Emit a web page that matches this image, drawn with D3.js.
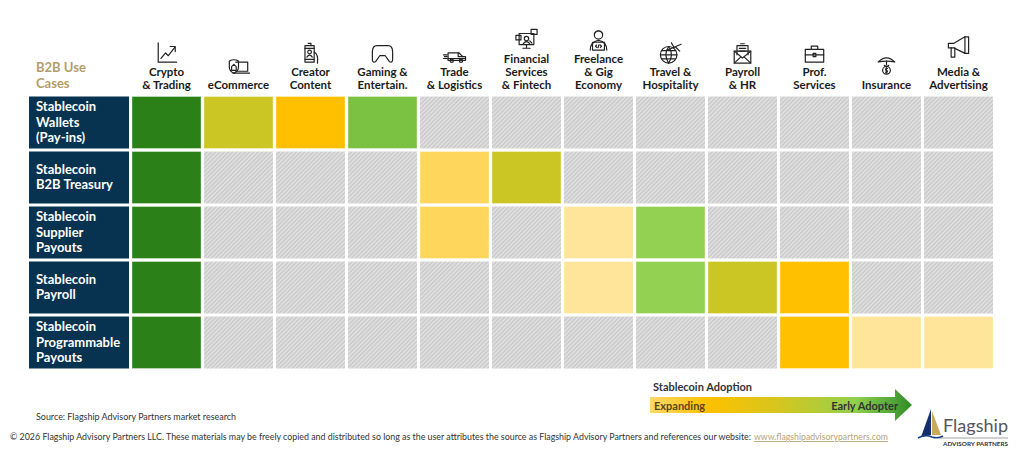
<html>
<head>
<meta charset="utf-8">
<style>
  body { margin: 0; background: #fff; }
  text { font-family: Lato, "Open Sans", sans-serif; }
</style>
</head>
<script src="https://d3js.org/d3.v7.min.js"></script>
<body>
<script>

// data
var industries = [
    ["Crypto", "& Trading"],
    ["eCommerce"],
    ["Creator", "Content"],
    ["Gaming &", "Entertain."],
    ["Trade", "& Logistics"],
    ["Financial", "Services", "& Fintech"],
    ["Freelance", "& Gig", "Economy"],
    ["Travel &", "Hospitality"],
    ["Payroll", "& HR"],
    ["Prof.", "Services"],
    ["Insurance"],
    ["Media &", "Advertising"]
];

var useCases = [
    ["Stablecoin", "Wallets", "(Pay-ins)"],
    ["Stablecoin", "B2B Treasury"],
    ["Stablecoin", "Supplier", "Payouts"],
    ["Stablecoin", "Payroll"],
    ["Stablecoin", "Programmable", "Payouts"]
];

// adoption level per use case (row) and industry (column), 0 = not yet
var wallets      = [7, 4, 3, 6, 0, 0, 0, 0, 0, 0, 0, 0];
var treasury     = [7, 0, 0, 0, 2, 4, 0, 0, 0, 0, 0, 0];
var supplier     = [7, 0, 0, 0, 2, 0, 1, 5, 0, 0, 0, 0];
var payroll      = [7, 0, 0, 0, 0, 0, 1, 5, 4, 3, 0, 0];
var programmable = [7, 0, 0, 0, 0, 0, 0, 0, 0, 3, 1, 1];
var adoption = [wallets, treasury, supplier, payroll, programmable];

var levels = [0, 1, 2, 3, 4, 5, 6, 7];
var legendTitle = "Stablecoin Adoption";
var legendEnds = ["Expanding", "Early Adopter"];
var sourceNote = "Source: Flagship Advisory Partners market research";
var copyNote = "\u00a9 2026 Flagship Advisory Partners LLC. These materials may be freely copied and distributed so long as the user attributes the source as Flagship Advisory Partners and references our website: ";
var copyLink = "www.flagshipadvisorypartners.com";

// icons, drawn in a 24x24 box
var icons = [
    {dy: 0, p: ["M3,1 V22 H23", "M6,18 L11,12 L14,15 L21,6", "M16,5 H21.5 V10.5"]},
    {dy: -3, p: ["M9,11 H22 V21 H9", "M6,23 H24", "M2,10 Q7,7 12,10 V16 Q12,21 7,23 Q2,21 2,16 Z", "M4.5,16 L7,13.5 L9.5,16 V20 H4.5 Z"]},
    {dy: 0, p: ["M6,4 H16 V22 H6 Z", "M6,7 H16", "M6,19 H16", "M8,16.5 Q11,12 14,16.5", "M16,11 Q21,14 19.5,23", "M9.5,1.5 H12.5 V4"], c: [[11, 11, 2]]},
    {dy: 0, p: ["M6,4 H18 Q23,4 23,11 V19 Q23,23 19.5,21.5 L15,15 H9 L4.5,21.5 Q1,23 1,19 V11 Q1,4 6,4 Z"]},
    {dy: 0, p: ["M5,12 H17 L21,16 H24 V20 H5 Z", "M0,14 H4 M1,16 H4 M0,18 H4", "M16,12 V16 H21", "M5,18 H24"], c: [[9, 20.5, 1.8], [19, 20.5, 1.8]]},
    {dy: 0, p: ["M4,5 H20 V17 H4 Z", "M12,17 V20 M8,21 H16", "M8.5,16 Q12,11.5 15.5,16", "M0.5,7 H6 V12 H0.5 Z", "M17,0.5 H23.5 V6 H17 Z", "M15.5,13 L18,15.5"], c: [[12, 10.5, 2.4]]},
    {dy: 0, p: ["M7.5,5 Q12,-0.5 16.5,5", "M3,23 Q3,14 12,12.5 Q21,14 21,23", "M5.5,14.5 H18.5 V23 H5.5 Z", "M10,17.5 L8.8,18.8 L10,20 M14,17.5 L15.2,18.8 L14,20 M12.6,17.2 L11.4,20.4"], c: [[12, 6.5, 4.5]]},
    {dy: 0, p: ["M1,14 H19", "M10,5 Q4,14 10,23", "M10,5 Q16,14 10,23", "M2.5,9.5 H17.5 M2.5,18.5 H17.5", "M8,9 L23.5,2.5", "M16,6 L13,1 M17.5,5.5 L22,10"], c: [[10, 14, 9]]},
    {dy: 0, p: ["M3,10 H21 V23 H3 Z", "M3,10 L12,17.5 L21,10", "M3,23 L10,16.5 M21,23 L14,16.5", "M6,14 V4 H18 V14", "M8.5,7 H15.5 M8.5,10 H15.5", "M10,2 H14"]},
    {dy: 0, p: ["M2,8 H22 V22 H2 Z", "M8.5,8 V4.5 H15.5 V8", "M2,14 H22", "M10.5,12.5 H13.5 V16 H10.5 Z"]},
    {dy: -3, p: ["M3,11 Q12,2 21,11 Q12,9 3,11 Z", "M12,10 V14", "M9.5,14.5 L12,16 L14.5,14.5", "M13,18 Q11,17.5 11,19 Q11,20 12,20 Q13.2,20.2 13,21.5 Q12.5,22.6 11,22 M12,17 V23"], c: [[12, 20, 4.2]]},
    {dy: -6, p: ["M1,8 H7 L19,1 V19 L7,13 H1 Z", "M19,1 H23 V19 H19", "M4,13 V23 H8 V13"]}
];

var W = 1024, H = 459;
var svg = d3.select("body").append("svg")
    .attr("width", W)
    .attr("height", H);

var defs = svg.append("defs");

// hatch for "not yet"
var hatch = defs.append("pattern")
    .attr("id", "hatch")
    .attr("patternUnits", "userSpaceOnUse")
    .attr("width", 3)
    .attr("height", 3)
    .attr("patternTransform", "rotate(45)");
hatch.append("rect").attr("width", 3).attr("height", 3).attr("fill", "#cdcdcd");
hatch.append("line").attr("x1", 0.5).attr("y1", 0).attr("x2", 0.5).attr("y2", 3)
    .attr("stroke", "#e6e6e6").attr("stroke-width", 1);

var colorOf = d3.scaleOrdinal()
    .domain(levels)
    .range(["url(#hatch)", "#ffe599", "#ffd65c", "#ffc000", "#ccc625", "#93d152", "#7cc242", "#2b8117"]);

// scales
var x = d3.scaleBand()
    .domain(d3.range(industries.length))
    .range([132, 993])
    .paddingInner(3 / 72);

var y = d3.scaleBand()
    .domain(d3.range(useCases.length))
    .range([96.5, 368.5])
    .paddingInner(3 / 55);

// header corner
svg.append("text")
    .attr("x", 36).attr("y", 72)
    .attr("fill", "#b39d6b").attr("font-size", 13).attr("font-weight", 700)
    .text("B2B Use");
svg.append("text")
    .attr("x", 36).attr("y", 88)
    .attr("fill", "#b39d6b").attr("font-size", 13).attr("font-weight", 700)
    .text("Cases");

// column headers
var lastBase = 89, lh = 13;
var heads = svg.append("g").selectAll("g")
    .data(industries)
    .enter()
    .append("g");

heads.each(function(lines, i) {
    var g = d3.select(this);
    var cx = x(i) + x.bandwidth() / 2;
    var first = lastBase - lh * (lines.length - 1);
    g.selectAll("text")
        .data(lines)
        .enter()
        .append("text")
        .attr("x", cx)
        .attr("y", function(d, k) { return first + k * lh; })
        .attr("text-anchor", "middle")
        .attr("font-size", 11.5)
        .attr("font-weight", 700)
        .attr("fill", "#1b1b1b")
        .text(function(d) { return d; });

    var ic = icons[i];
    var s = 0.92;
    var bottom = first - 12 + ic.dy;
    var ig = g.append("g")
        .attr("transform", "translate(" + (cx - 12 * s) + "," + (bottom - 24 * s) + ") scale(" + s + ")")
        .attr("fill", "none")
        .attr("stroke", "#222")
        .attr("stroke-width", 1.3)
        .attr("stroke-linejoin", "round")
        .attr("stroke-linecap", "round");
    ig.selectAll("path").data(ic.p).enter().append("path").attr("d", function(d) { return d; });
    ig.selectAll("circle").data(ic.c || []).enter().append("circle")
        .attr("cx", function(d) { return d[0]; })
        .attr("cy", function(d) { return d[1]; })
        .attr("r", function(d) { return d[2]; });
});

// row labels
var rows = svg.append("g").selectAll("g")
    .data(useCases)
    .enter()
    .append("g");

rows.append("rect")
    .attr("x", 29)
    .attr("y", function(d, i) { return y(i); })
    .attr("width", 100)
    .attr("height", y.bandwidth())
    .attr("fill", "#083350");

rows.each(function(lines, i) {
    var mid = y(i) + y.bandwidth() / 2;
    var first = mid - (lines.length - 1) * 15.5 / 2 + 4.2;
    d3.select(this).selectAll("text")
        .data(lines)
        .enter()
        .append("text")
        .attr("x", 36)
        .attr("y", function(d, k) { return first + k * 15.5; })
        .attr("fill", "#fff")
        .attr("font-size", 13)
        .attr("font-weight", 700)
        .text(function(d) { return d; });
});

// cells
var cells = [];
adoption.forEach(function(row, r) {
    row.forEach(function(v, c) { cells.push({r: r, c: c, v: v}); });
});

svg.append("g").selectAll("rect")
    .data(cells)
    .enter()
    .append("rect")
    .attr("x", function(d) { return x(d.c); })
    .attr("y", function(d) { return y(d.r); })
    .attr("width", x.bandwidth())
    .attr("height", y.bandwidth())
    .attr("fill", function(d) { return colorOf(d.v); })
    .attr("stroke", function(d) { return d.v ? "rgba(255,255,255,0.35)" : "none"; })
    .attr("stroke-width", 1);

// legend arrow
var grad = defs.append("linearGradient")
    .attr("id", "adopt")
    .attr("gradientUnits", "userSpaceOnUse")
    .attr("x1", 650).attr("x2", 912).attr("y1", 0).attr("y2", 0);
grad.selectAll("stop")
    .data([[0, "#ffd968"], [0.22, "#ffc000"], [0.5, "#d4c620"], [0.78, "#93d04c"], [0.92, "#55a83a"], [1, "#2e8a22"]])
    .enter().append("stop")
    .attr("offset", function(d) { return d[0]; })
    .attr("stop-color", function(d) { return d[1]; });

svg.append("path")
    .attr("d", "M650,397 H895 V389 L912,405 L895,421 V413 H650 Z")
    .attr("fill", "url(#adopt)");

svg.append("text")
    .attr("x", 653).attr("y", 391)
    .attr("font-size", 11).attr("font-weight", 700).attr("fill", "#333")
    .text(legendTitle);
svg.append("text")
    .attr("x", 654).attr("y", 409.5)
    .attr("font-size", 11).attr("font-weight", 700).attr("fill", "#5a4716")
    .text(legendEnds[0]);
svg.append("text")
    .attr("x", 898).attr("y", 409.5)
    .attr("text-anchor", "end")
    .attr("font-size", 11).attr("font-weight", 700).attr("fill", "#333")
    .text(legendEnds[1]);

// footnotes
svg.append("text")
    .attr("x", 36).attr("y", 420)
    .attr("font-size", 9).attr("fill", "#333")
    .attr("textLength", 200).attr("lengthAdjust", "spacingAndGlyphs")
    .text(sourceNote);
svg.append("text")
    .attr("x", 10).attr("y", 440)
    .attr("font-size", 9).attr("fill", "#333")
    .attr("textLength", 741).attr("lengthAdjust", "spacingAndGlyphs")
    .text(copyNote);
svg.append("text")
    .attr("x", 754).attr("y", 440)
    .attr("font-size", 9).attr("fill", "#b5a479")
    .attr("text-decoration", "underline")
    .attr("textLength", 134).attr("lengthAdjust", "spacingAndGlyphs")
    .text(copyLink);

// logo
var logo = svg.append("g");
logo.append("path").attr("d", "M931,409 L921,437 L931,435 Z").attr("fill", "#12306b");
logo.append("path").attr("d", "M932,411 L941,435 L932,435 Z").attr("fill", "#c9a95c");
logo.append("path").attr("d", "M918,438 Q925,434 932,437 Q938,439 943,436").attr("fill", "none").attr("stroke", "#1a3f8a").attr("stroke-width", 1.6);
logo.append("text")
    .attr("x", 943).attr("y", 432)
    .attr("font-family", "'DejaVu Serif', 'Liberation Serif', serif")
    .attr("font-size", 16.5).attr("fill", "#55565c")
    .attr("textLength", 65).attr("lengthAdjust", "spacingAndGlyphs")
    .text("Flagship");
logo.append("line")
    .attr("x1", 940).attr("x2", 1008).attr("y1", 438).attr("y2", 438)
    .attr("stroke", "#8c8c8c").attr("stroke-width", 0.8);
logo.append("text")
    .attr("x", 943).attr("y", 446)
    .attr("font-size", 5.5).attr("font-weight", 700).attr("fill", "#333")
    .attr("textLength", 65).attr("lengthAdjust", "spacingAndGlyphs")
    .text("ADVISORY PARTNERS");

</script>
</body>
</html>
